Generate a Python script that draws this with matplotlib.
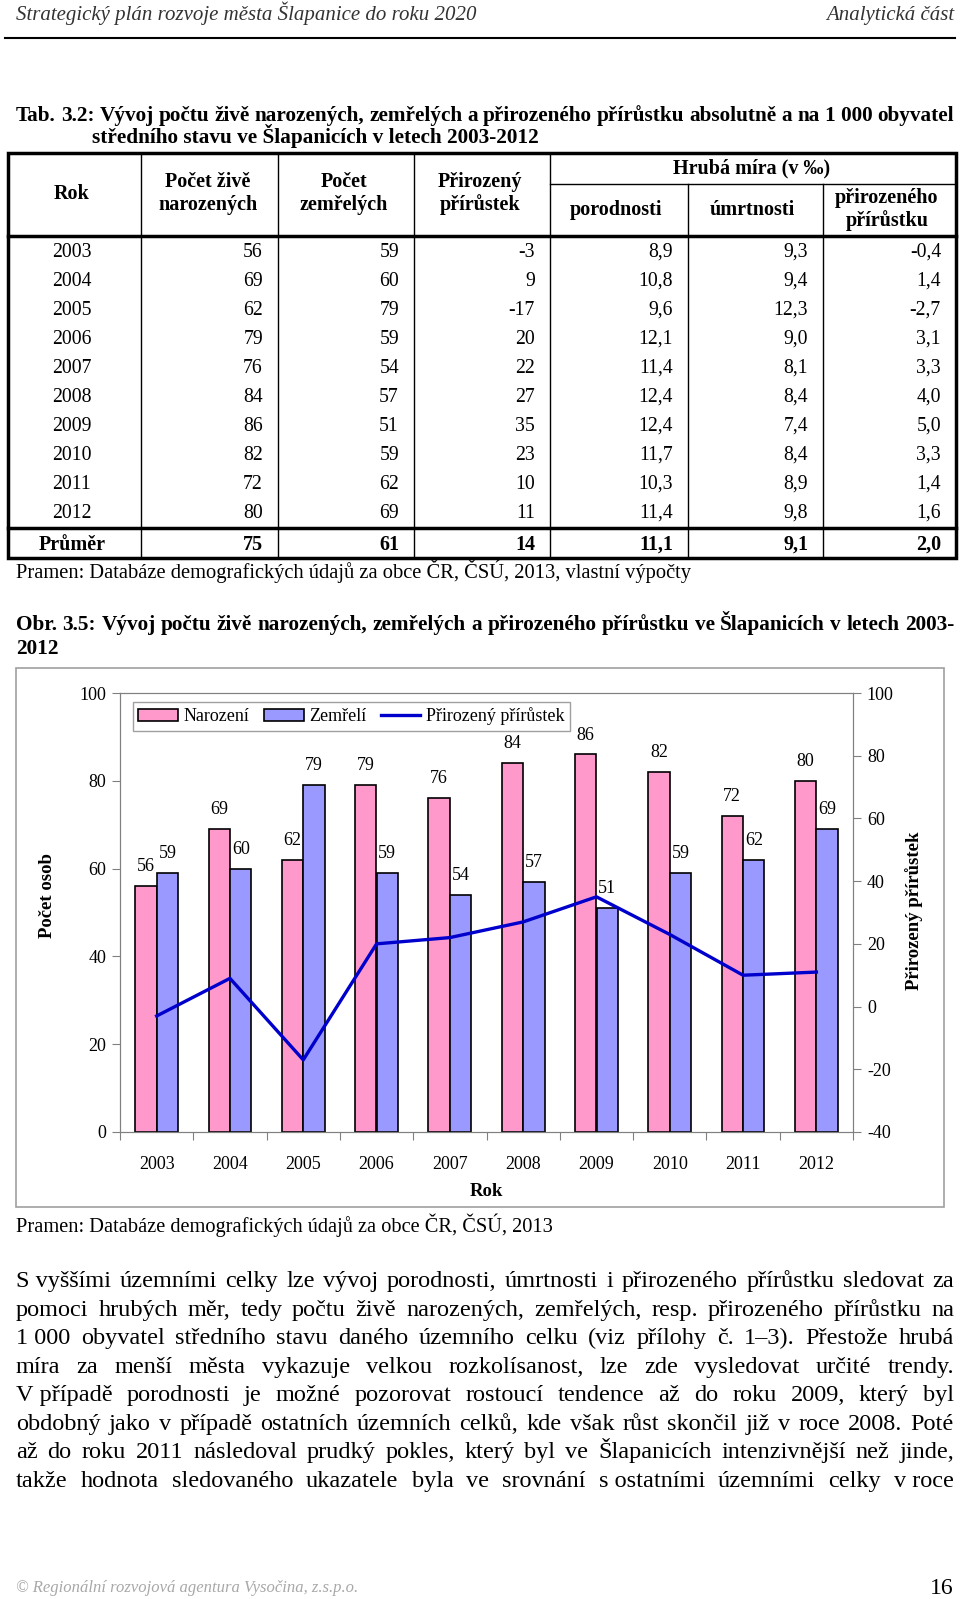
import matplotlib
matplotlib.use('Agg')
import matplotlib.pyplot as plt
from matplotlib.patches import Rectangle
import numpy as np

plt.rcParams['font.family'] = ['Liberation Serif', 'DejaVu Serif']
plt.rcParams['axes.unicode_minus'] = False

# data
roky = [2003, 2004, 2005, 2006, 2007, 2008, 2009, 2010, 2011, 2012]
narozeni = [56, 69, 62, 79, 76, 84, 86, 82, 72, 80]
zemreli = [59, 60, 79, 59, 54, 57, 51, 59, 62, 69]
prirustek = [-3, 9, -17, 20, 22, 27, 35, 23, 10, 11]
mira_porodnosti = [8.9, 10.8, 9.6, 12.1, 11.4, 12.4, 12.4, 11.7, 10.3, 11.4]
mira_umrtnosti = [9.3, 9.4, 12.3, 9.0, 8.1, 8.4, 7.4, 8.4, 8.9, 9.8]
mira_prirustku = [-0.4, 1.4, -2.7, 3.1, 3.3, 4.0, 5.0, 3.3, 1.4, 1.6]
prumer = [75, 61, 14, 11.1, 9.1, 2.0]

odstavec = [
    "S\u00a0vyššími územními celky lze vývoj porodnosti, úmrtnosti i přirozeného přírůstku sledovat za",
    "pomoci hrubých měr, tedy počtu živě narozených, zemřelých, resp. přirozeného přírůstku na",
    "1\u00a0000 obyvatel středního stavu daného územního celku (viz přílohy č. 1–3). Přestože hrubá",
    "míra za menší města vykazuje velkou rozkolísanost, lze zde vysledovat určité trendy.",
    "V\u00a0případě porodnosti je možné pozorovat rostoucí tendence až do roku 2009, který byl",
    "obdobný jako v případě ostatních územních celků, kde však růst skončil již v roce 2008. Poté",
    "až do roku 2011 následoval prudký pokles, který byl ve Šlapanicích intenzivnější než jinde,",
    "takže hodnota sledovaného ukazatele byla ve srovnání s\u00a0ostatními územními celky v\u00a0roce",
]


def cz(v):
    return f"{v:.1f}".replace('.', ',')


fig = plt.figure(figsize=(9.6, 15.99), dpi=100)
page = fig.add_axes([0, 0, 1, 1])
page.set_xlim(0, 960)
page.set_ylim(1599, 0)
page.axis('off')
renderer = fig.canvas.get_renderer()


def justify(text, x0, x1, y, **kw):
    words = text.split(' ')
    objs = [page.text(x0, y, w, va='baseline', **kw) for w in words]
    widths = [o.get_window_extent(renderer).width for o in objs]
    gap = (x1 - x0 - sum(widths)) / max(len(words) - 1, 1)
    x = x0
    for o, w in zip(objs, widths):
        o.set_x(x)
        x += w + gap


# hlavicka stranky
page.text(16, 20, "Strategický plán rozvoje města Šlapanice do roku 2020", fontsize=15,
          style='italic', color='#333333', va='baseline')
page.text(954, 20, "Analytická část", fontsize=15, style='italic', color='#333333',
          ha='right', va='baseline')
page.plot([5, 955], [38, 38], color='black', lw=1.5)

# nadpis tabulky
justify("Tab. 3.2: Vývoj počtu živě narozených, zemřelých a přirozeného přírůstku absolutně a na 1\u00a0000 obyvatel",
        16, 954, 121, fontsize=15.3, fontweight='bold')
page.text(92, 143, "středního stavu ve Šlapanicích v letech 2003-2012", fontsize=15.3,
          fontweight='bold', va='baseline')

# tabulka
cols = [8, 141, 278, 414, 550, 688, 823, 956]
top, hdr, bot, avg = 153, 236, 558, 528
page.add_patch(Rectangle((cols[0], top), cols[-1] - cols[0], bot - top, fill=False,
                         edgecolor='black', lw=2.5))
for c in cols[1:5]:
    page.plot([c, c], [top, bot], color='black', lw=1)
for c in cols[5:7]:
    page.plot([c, c], [184, bot], color='black', lw=1)
page.plot([cols[4], cols[-1]], [184, 184], color='black', lw=1)
page.plot([cols[0], cols[-1]], [hdr, hdr], color='black', lw=2.5)
page.plot([cols[0], cols[-1]], [avg, avg], color='black', lw=2.5)

hk = dict(fontsize=14.5, fontweight='bold', ha='center', va='baseline')
page.text(72, 199, "Rok", **hk)
page.text(208, 187, "Počet živě", **hk)
page.text(208, 210, "narozených", **hk)
page.text(344, 187, "Počet", **hk)
page.text(344, 210, "zemřelých", **hk)
page.text(480, 187, "Přirozený", **hk)
page.text(480, 210, "přírůstek", **hk)
page.text(752, 173, "Hrubá míra (v ‰)", **hk)
page.text(616, 215, "porodnosti", **hk)
page.text(752, 215, "úmrtnosti", **hk)
page.text(887, 203, "přirozeného", **hk)
page.text(887, 226, "přírůstku", **hk)

for i, rok in enumerate(roky):
    y = 257 + 29.0 * i
    radek = [str(narozeni[i]), str(zemreli[i]), str(prirustek[i]),
             cz(mira_porodnosti[i]), cz(mira_umrtnosti[i]), cz(mira_prirustku[i])]
    page.text(52, y, str(rok), fontsize=14.2, va='baseline')
    for j, s in enumerate(radek):
        page.text(cols[j + 2] - 15, y, s, fontsize=14.2, ha='right', va='baseline')

y = 550
page.text(72, y, "Průměr", fontsize=14.5, fontweight='bold', ha='center', va='baseline')
for j, v in enumerate(prumer):
    s = str(v) if j < 3 else cz(v)
    page.text(cols[j + 2] - 15, y, s, fontsize=14.5, fontweight='bold', ha='right', va='baseline')

page.text(16, 578, "Pramen: Databáze demografických údajů za obce ČR, ČSÚ, 2013, vlastní výpočty",
          fontsize=14.8, va='baseline')

# nadpis grafu
justify("Obr. 3.5: Vývoj počtu živě narozených, zemřelých a přirozeného přírůstku ve Šlapanicích v letech 2003-",
        16, 954, 630, fontsize=15.3, fontweight='bold')
page.text(16, 654, "2012", fontsize=15.3, fontweight='bold', va='baseline')

# ramecek grafu
page.add_patch(Rectangle((16, 668), 928, 539, fill=False, edgecolor='#a0a0a0', lw=1.2))

# graf
ax = fig.add_axes([120 / 960, 1 - 1132 / 1599, (853 - 120) / 960, (1132 - 693) / 1599])
x = np.arange(len(roky))
w = 0.29
b1 = ax.bar(x - 0.147, narozeni, w, color='#FF99CC', edgecolor='black', lw=1.2)
b2 = ax.bar(x + 0.147, zemreli, w, color='#9999FF', edgecolor='black', lw=1.2)
for xi, v in zip(x - 0.147, narozeni):
    ax.annotate(str(v), (xi, v), xytext=(0, 14), textcoords='offset points',
                ha='center', va='center', fontsize=13)
for xi, v in zip(x + 0.147, zemreli):
    ax.annotate(str(v), (xi, v), xytext=(0, 14), textcoords='offset points',
                ha='center', va='center', fontsize=13)
ax.set_xlim(-0.5, len(roky) - 0.5)
ax.set_ylim(0, 100)
ax.set_yticks(range(0, 101, 20))
ax.set_xticks(np.arange(-0.5, len(roky), 1.0))
ax.set_xticklabels([])
ax.set_xticks(x, minor=True)
ax.set_xticklabels([str(r) for r in roky], minor=True)
ax.tick_params(axis='x', which='major', length=6, color='#808080', direction='out')
ax.tick_params(axis='x', which='minor', length=0, pad=17, labelsize=13)
ax.tick_params(axis='y', length=6, color='#808080', pad=4, labelsize=13)

ax2 = ax.twinx()
ln, = ax2.plot(x, prirustek, color='#0000CC', lw=2.4)
ax2.set_ylim(-40, 100)
ax2.set_yticks(range(-40, 101, 20))
ax2.tick_params(axis='y', length=6, color='#808080', pad=4, labelsize=13)
for a in (ax, ax2):
    for s in a.spines.values():
        s.set_color('#808080')

leg = ax2.legend([b1, b2, ln], ["Narození", "Zemřelí", "Přirozený přírůstek"],
                 loc='upper left', bbox_to_anchor=(13 / 733, 1 - 9 / 439), borderaxespad=0,
                 ncol=3, fontsize=13, fancybox=False, edgecolor='#a0a0a0', framealpha=1,
                 handlelength=2.2, handleheight=0.7, handletextpad=0.3, columnspacing=0.8,
                 borderpad=0.3)

page.text(486, 1196, "Rok", fontsize=13.5, fontweight='bold', ha='center', va='baseline')
page.text(48, 896, "Počet osob", fontsize=13.5, fontweight='bold', rotation=90,
          ha='center', va='center')
page.text(914, 911, "Přirozený přírůstek", fontsize=13.5, fontweight='bold', rotation=90,
          ha='center', va='center')

page.text(16, 1232, "Pramen: Databáze demografických údajů za obce ČR, ČSÚ, 2013",
          fontsize=14.7, va='baseline')

# odstavec
for i, radek in enumerate(odstavec):
    justify(radek, 16, 954, 1287 + 28.57 * i, fontsize=17.5)

# paticka
page.text(16, 1592, "© Regionální rozvojová agentura Vysočina, z.s.p.o.", fontsize=12,
          style='italic', color='#a8a8a8', va='baseline')
page.text(954, 1594, "16", fontsize=17, ha='right', va='baseline')

fig.savefig('out.png', dpi=100)
